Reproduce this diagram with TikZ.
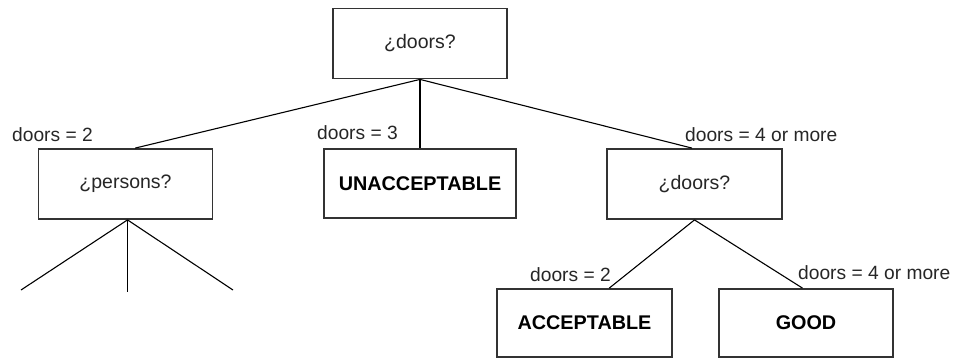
\documentclass[tikz,border=0pt]{standalone}
\usepackage{fontspec}
\setmainfont{Liberation Sans}
\usetikzlibrary{calc}
\begin{document}
\begin{tikzpicture}[x=1pt,y=-1pt,
  box/.style={draw=black!80,line width=1.8pt,fill=white,inner sep=0pt,
    minimum width=174pt,minimum height=70pt,font=\fontsize{19.5}{21}\selectfont,text=black!85},
  leafbox/.style={box,font=\fontsize{19.8}{21}\selectfont\bfseries,text=black},
  branch/.style={draw=black,line width=1.1pt},
  cond/.style={anchor=west,inner sep=0pt,font=\fontsize{19.2}{21}\selectfont,text=black!85}]
  \useasboundingbox (0,0) rectangle (956,360);

  % decision nodes and outcomes
  \node[box] (root) at (420,43.5) {¿doors?};
  \node[box] (persons) at (125.5,184) {¿persons?};
  \node[leafbox,minimum width=192pt,minimum height=69pt] (unacc) at (420,183.5) {UNACCEPTABLE};
  \node[box,minimum width=175pt] (doors) at (694.5,184) {¿doors?};
  \node[leafbox,minimum width=175pt,minimum height=68pt] (acc) at (584.5,323) {ACCEPTABLE};
  \node[leafbox,minimum height=68pt] (good) at (806,323) {GOOD};

  % open ends below the persons test
  \coordinate (fork) at ($(persons.south)+(2,0)$);
  \coordinate (p1) at (21,290);
  \coordinate (p2) at (127.5,292);
  \coordinate (p3) at (233,290);

  % branches
  \draw[branch] (root.south) -- ($(persons.north west)!0.555!(persons.north east)$);
  \draw[branch] (root.south) -- (unacc.north);
  \draw[branch] (root.south) -- ($(doors.north west)!0.486!(doors.north east)$);
  \draw[branch] (doors.south) -- ($(acc.north west)!0.64!(acc.north east)$);
  \draw[branch] (doors.south) -- ($(good.north west)!0.48!(good.north east)$);
  \draw[branch] (fork) -- (p1);
  \draw[branch] (fork) -- (p2);
  \draw[branch] (fork) -- (p3);

  % branch conditions
  \node[cond] (c1) at (12,135) {doors = 2};
  \node[cond] (c2) at (317,133) {doors = 3};
  \node[cond] (c3) at (685,135) {doors = 4 or more};
  \node[cond] (c4) at (530,275) {doors = 2};
  \node[cond] (c5) at (798,273) {doors = 4 or more};
\end{tikzpicture}
\end{document}
